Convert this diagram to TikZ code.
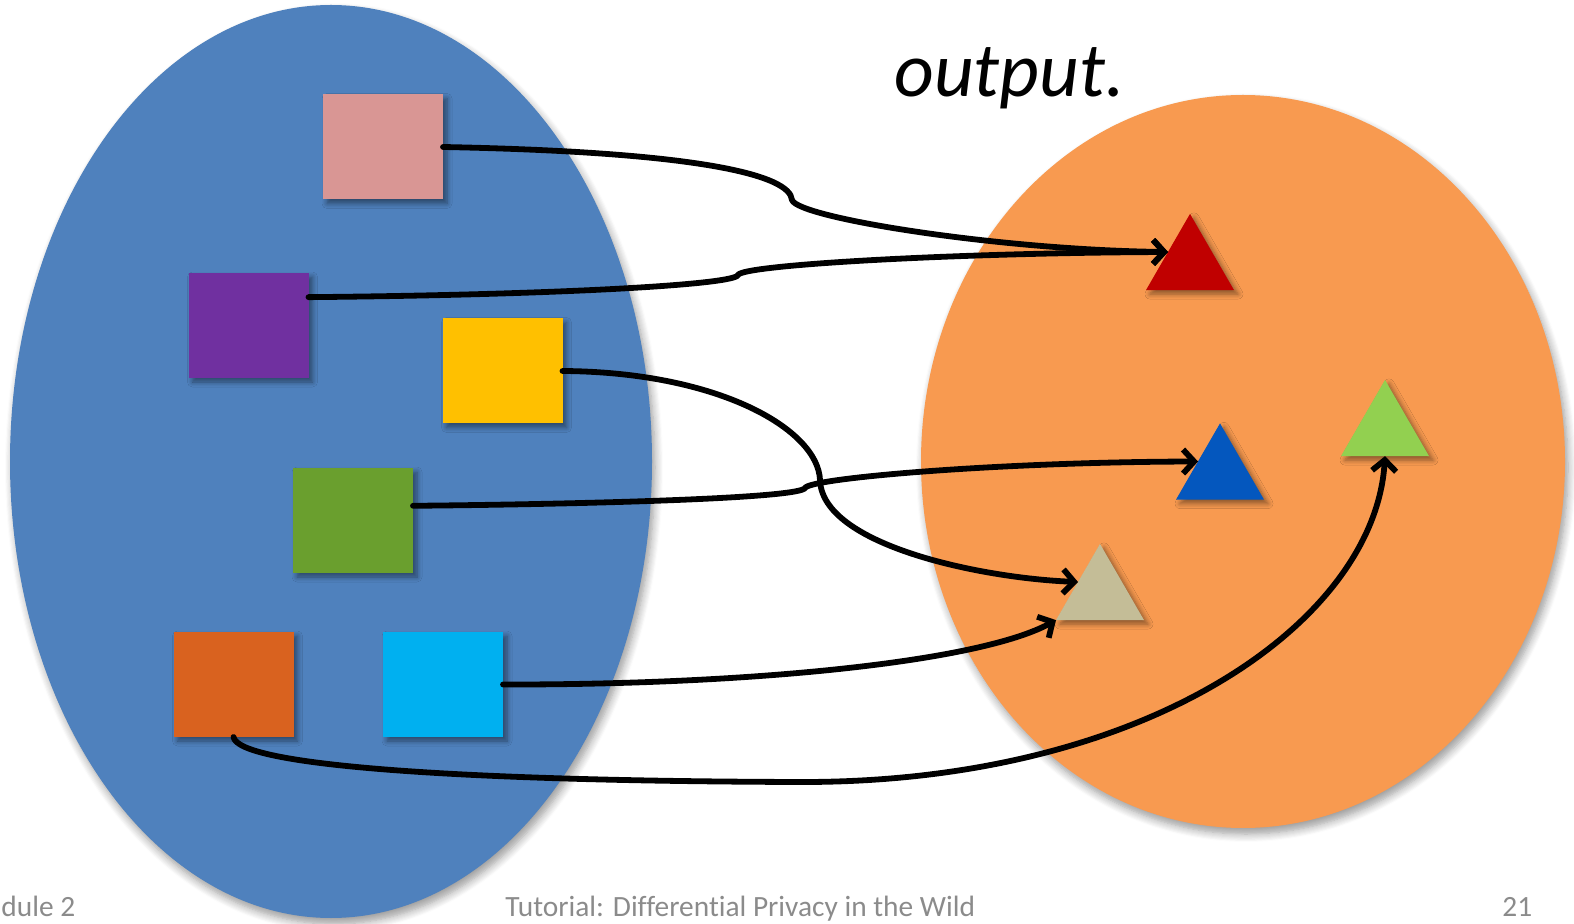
\documentclass[tikz,border=0pt]{standalone}
\usepackage{fontspec}
\setmainfont[Ligatures=NoCommon]{Carlito}
\usetikzlibrary{shapes.geometric,arrows.meta,calc,shadows.blur}

\definecolor{setblue}{HTML}{4F81BD}
\definecolor{setorange}{HTML}{F89A50}
\definecolor{sqpink}{HTML}{D99694}
\definecolor{sqpurple}{HTML}{7030A0}
\definecolor{sqyellow}{HTML}{FFC000}
\definecolor{sqgreen}{HTML}{6A9F2E}
\definecolor{sqorange}{HTML}{D9621F}
\definecolor{sqcyan}{HTML}{00B0F0}
\definecolor{trired}{HTML}{C00000}
\definecolor{triblue}{HTML}{0457BE}
\definecolor{trigreen}{HTML}{92D050}
\definecolor{tritan}{HTML}{C4BD97}
\definecolor{footgray}{HTML}{8B8B8B}

\begin{document}
\begin{tikzpicture}[x=0.5pt,y=-0.5pt,
  softshadow/.style={blur shadow={shadow xshift=2pt,shadow yshift=-2pt,
      shadow blur radius=2.5pt,shadow blur steps=6,shadow opacity=45}},
  setshape/.style={ellipse,inner sep=0,outer sep=0,
      blur shadow={shadow xshift=1.5pt,shadow yshift=-3pt,
      shadow blur radius=4pt,shadow blur steps=8,shadow opacity=40}},
  sq/.style={rectangle,minimum width=60pt,minimum height=52.5pt,
      inner sep=0,outer sep=0,softshadow},
  tri/.style={regular polygon,regular polygon sides=3,minimum size=50.8pt,
      inner sep=0,outer sep=0,softshadow},
  link/.style={line width=2.9pt,line cap=round,line join=round,
      -{Straight Barb[length=5.5pt,width=12pt]}},
  foot/.style={anchor=base west,inner sep=0,text=footgray,
      font=\fontsize{14.7}{17}\selectfont}]

\clip (0,0) rectangle (1574,924);

% the two sets
\node[setshape,fill=setblue,minimum width=321pt,minimum height=456.5pt]
  (inset) at (331,461.5) {};
\node[setshape,fill=setorange,minimum width=322pt,minimum height=366.5pt]
  (outset) at (1243,461.5) {};

% inputs
\node[sq,fill=sqpink]   (pink)   at (383,147) {};
\node[sq,fill=sqpurple] (purple) at (248.5,325.5) {};
\node[sq,fill=sqyellow] (yellow) at (502.5,371) {};
\node[sq,fill=sqgreen]  (green)  at (353,520.5) {};
\node[sq,fill=sqorange] (orange) at (233.5,684.5) {};
\node[sq,fill=sqcyan]   (cyan)   at (443,684.5) {};

% outputs
\node[tri,fill=trired]   (tred)   at (1190,264.7) {};
\node[tri,fill=triblue]  (tblue)  at (1220,474.2) {};
\node[tri,fill=trigreen] (tgreen) at (1385,430.7) {};
\node[tri,fill=tritan]   (ttan)   at (1100,594.7) {};

% connector ends
\coordinate (purpleout) at ($(purple.north east)!0.23!(purple.south east)$);
\coordinate (greenout)  at ($(green.north east)!0.36!(green.south east)$);
\coordinate (redin)   at ($(tred.corner 1)!0.5!(tred.corner 2)$);
\coordinate (bluein)  at ($(tblue.corner 1)!0.5!(tblue.corner 2)$);
\coordinate (tanin)   at ($(ttan.corner 1)!0.5!(ttan.corner 2)$);

% the mapping
\draw[link] (pink.east) .. controls (700,152) and (790,175) .. (792,200)
  .. controls (798,218) and (1000,250) .. (redin);
\draw[link] (purpleout) .. controls (550,295) and (735,285) .. (738,275)
  .. controls (742,265) and (950,253) .. (redin);
\draw[link] (yellow.east) .. controls (720,372) and (818,430) .. (820,480)
  .. controls (822,545) and (980,578) .. (tanin);
\draw[link] (greenout) .. controls (600,504) and (800,498) .. (805,488)
  .. controls (810,478) and (1000,462) .. (bluein);
\draw[link] (cyan.east) .. controls (750,685) and (980,662) .. (ttan.corner 2);
\draw[link] (orange.south) .. controls (238,765) and (450,781) .. (800,782)
  .. controls (1150,783) and (1375,620) .. (tgreen.south);

% caption
\node[anchor=base west,inner sep=0,font=\fontsize{38.7}{46}\selectfont\itshape]
  (caption) at (894,97) {output.};

% footer
\node[foot] (modfoot)   at (1,916)   {dule 2};
\node[foot] (titlefoot) at (505,916) {Tutorial: Differential Privacy in the Wild};
\node[foot] (pagefoot)  at (1502,916) {21};
\end{tikzpicture}
\end{document}
